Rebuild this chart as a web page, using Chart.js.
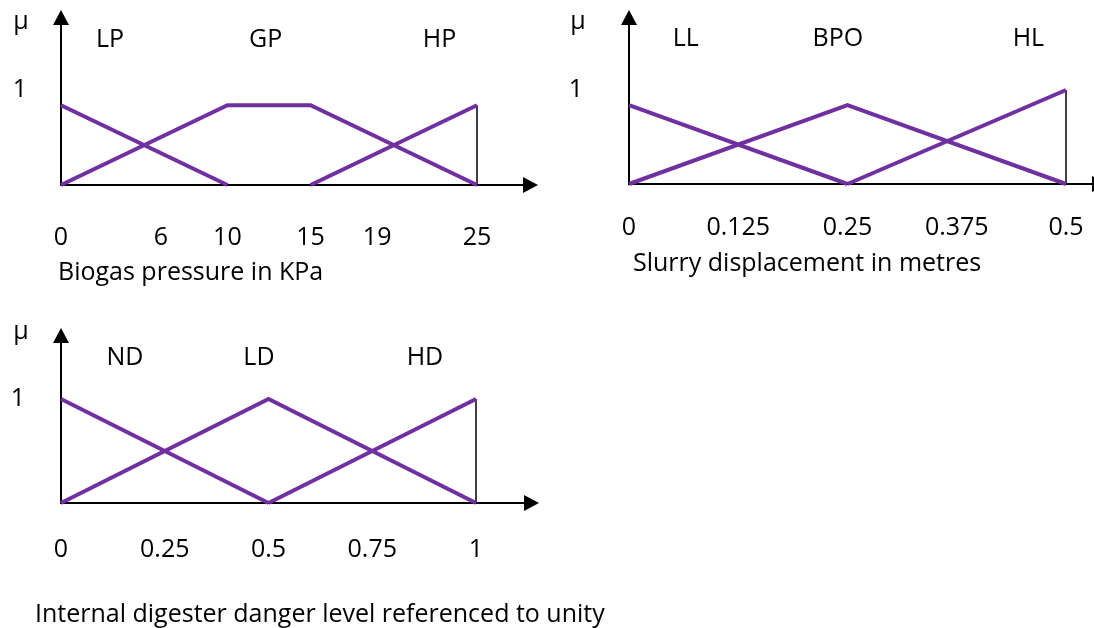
<!DOCTYPE html>
<html><head><meta charset="utf-8">
<script src="https://cdn.jsdelivr.net/npm/chart.js@4.4.1/dist/chart.umd.min.js"></script>
<style>
html,body{margin:0;padding:0;background:#fff;width:1094px;height:628px;overflow:hidden;position:relative;}
canvas{position:absolute;}
</style></head><body>
<canvas id="c1" width="547" height="290" style="left:0;top:0"></canvas>
<canvas id="c2" width="580" height="290" style="left:550px;top:0"></canvas>
<canvas id="c3" width="700" height="328" style="left:0;top:300px"></canvas>
<script>
// ---------- Data: biogas pressure (KPa) ----------
const pressureTicks = [0, 6, 10, 15, 19, 25];
const pressureTickLabels = ['0', '6', '10', '15', '19', '25'];
const pressureSets = ['LP', 'GP', 'HP'];
const lpX = [0, 10];          const lpY = [0.84, 0];
const gpX = [0, 10, 15, 25];  const gpY = [0, 0.84, 0.84, 0];
const hpX = [15, 25];         const hpY = [0, 0.84];

// ---------- Data: slurry displacement (m) ----------
const slurryTicks = [0, 0.125, 0.25, 0.375, 0.5];
const slurryTickLabels = ['0', '0.125', '0.25', '0.375', '0.5'];
const slurrySets = ['LL', 'BPO', 'HL'];
const llX = [0, 0.25];        const llY = [0.84, 0];
const bpoX = [0, 0.25, 0.5];  const bpoY = [0, 0.84, 0];
const hlX = [0.25, 0.5];      const hlY = [0, 1];

// ---------- Data: danger level ----------
const dangerTicks = [0, 0.25, 0.5, 0.75, 1];
const dangerTickLabels = ['0', '0.25', '0.5', '0.75', '1'];
const dangerSets = ['ND', 'LD', 'HD'];
const ndX = [0, 0.5];         const ndY = [1, 0];
const ldX = [0, 0.5, 1];      const ldY = [0, 1, 0];
const hdX = [0.5, 1];         const hdY = [0, 1];

const yTickValues = [1];
const yTickLabels = ['1'];
const MU = 'μ';

const PURPLE = '#7030A0';
const FONT = '"Open Sans", Lato, sans-serif';
const FSIZE = 25;

function decor(d) {
  return {
    id: 'decor',
    beforeDatasetsDraw(chart) {
      const {ctx, chartArea: a} = chart;
      ctx.save();
      ctx.strokeStyle = '#000'; ctx.fillStyle = '#000'; ctx.lineWidth = 2;
      const al = 15, aw = 8;
      // y axis with arrow
      const yTip = a.top + d.yTipDy;
      ctx.beginPath(); ctx.moveTo(a.left, a.bottom + 1); ctx.lineTo(a.left, yTip + al); ctx.stroke();
      ctx.beginPath(); ctx.moveTo(a.left, yTip); ctx.lineTo(a.left - aw, yTip + al); ctx.lineTo(a.left + aw, yTip + al); ctx.closePath(); ctx.fill();
      // x axis with arrow
      const xTip = a.right + d.xTipDx;
      ctx.beginPath(); ctx.moveTo(a.left - 1, a.bottom); ctx.lineTo(xTip - al, a.bottom); ctx.stroke();
      ctx.beginPath(); ctx.moveTo(xTip, a.bottom); ctx.lineTo(xTip - al, a.bottom - aw); ctx.lineTo(xTip - al, a.bottom + aw); ctx.closePath(); ctx.fill();
      ctx.restore();
    },
    afterDraw(chart) {
      const {ctx, chartArea: a, scales} = chart;
      ctx.save();
      ctx.fillStyle = '#000';
      ctx.font = FSIZE + 'px ' + FONT;
      ctx.textBaseline = 'alphabetic';
      ctx.textAlign = 'center';
      ctx.fillText(MU, a.left + d.muDx, a.top + d.muDy);
      d.names.forEach((n, i) => {
        ctx.fillText(n, scales.x.getPixelForValue(d.nameX[i]), a.top + d.nameDy);
      });
      ctx.textAlign = 'left';
      ctx.fillText(d.title, a.left + d.titleDx, a.bottom + d.titleDy);
      ctx.restore();
    }
  };
}

function buildChart(id, spec) {
  const datasets = spec.series.map(s => ({
    data: s.x.map((x, i) => ({x, y: s.y[i]})),
    borderColor: PURPLE, borderWidth: 4, pointRadius: 0, showLine: true,
    fill: false, tension: 0, clip: false
  }));
  const last = spec.series[spec.series.length - 1];
  const xe = last.x[last.x.length - 1], ye = last.y[last.y.length - 1];
  datasets.push({
    data: [{x: xe, y: 0}, {x: xe, y: ye}],
    borderColor: '#000', borderWidth: 1.5, pointRadius: 0, showLine: true, clip: false
  });
  return new Chart(document.getElementById(id), {
    type: 'scatter',
    data: {datasets},
    options: {
      responsive: false, animation: false, devicePixelRatio: 1,
      layout: {padding: {top: spec.padTop, right: spec.padRight, left: 0, bottom: 0}},
      plugins: {legend: {display: false}, tooltip: {enabled: false}, title: {display: false}},
      scales: {
        x: {
          type: 'linear', position: 'bottom', min: spec.xTicks[0], max: spec.xTicks[spec.xTicks.length - 1],
          grid: {display: false, drawTicks: false}, border: {display: false},
          afterBuildTicks: sc => { sc.ticks = spec.xTicks.map(v => ({value: v})); },
          afterFit: sc => { sc.height = spec.xHeight; },
          ticks: {padding: spec.xTickPad, maxRotation: 0, minRotation: 0, autoSkip: false, color: '#000',
                  font: {family: FONT, size: FSIZE},
                  callback: (v, i) => spec.xTickLabels[i]},
          title: {display: false}
        },
        y: {
          type: 'linear', position: 'left', min: 0, max: 1,
          grid: {display: false, drawTicks: false}, border: {display: false},
          afterBuildTicks: sc => { sc.ticks = yTickValues.map(v => ({value: v})); },
          afterFit: sc => { sc.width = spec.yWidth; },
          ticks: {padding: spec.yTickPad, color: '#000', font: {family: FONT, size: FSIZE},
                  callback: (v, i) => yTickLabels[i]}
        }
      }
    },
    plugins: [decor(spec.decor)]
  });
}

function draw() {
  buildChart('c1', {
    series: [{x: lpX, y: lpY}, {x: gpX, y: gpY}, {x: hpX, y: hpY}],
    xTicks: pressureTicks, xTickLabels: pressureTickLabels,
    padTop: 90, padRight: 70, yWidth: 61, xHeight: 105, xTickPad: 38, yTickPad: 34,
    decor: {title: 'Biogas pressure in KPa', titleDx: -3, titleDy: 95,
            names: pressureSets, nameX: [2.94, 12.3, 22.75], nameDy: -43, muDx: -40, muDy: -61, yTipDy: -80, xTipDx: 61}
  });
  buildChart('c2', {
    series: [{x: llX, y: llY}, {x: bpoX, y: bpoY}, {x: hlX, y: hlY}],
    xTicks: slurryTicks, xTickLabels: slurryTickLabels,
    padTop: 90, padRight: 64, yWidth: 79, xHeight: 106, xTickPad: 29, yTickPad: 46,
    decor: {title: 'Slurry displacement in metres', titleDx: 4, titleDy: 87,
            names: slurrySets, nameX: [0.065, 0.239, 0.457], nameDy: -44, muDx: -51, muDy: -61, yTipDy: -80, xTipDx: 41}
  });
  buildChart('c3', {
    series: [{x: ndX, y: ndY}, {x: ldX, y: ldY}, {x: hdX, y: hdY}],
    xTicks: dangerTicks, xTickLabels: dangerTickLabels,
    padTop: 99, padRight: 224, yWidth: 61, xHeight: 125, xTickPad: 32, yTickPad: 36,
    decor: {title: 'Internal digester danger level referenced to unity', titleDx: -26, titleDy: 119,
            names: dangerSets, nameX: [0.154, 0.477, 0.877], nameDy: -34, muDx: -40, muDy: -60, yTipDy: -71, xTipDx: 63}
  });
}
if (document.fonts && document.fonts.load) {
  document.fonts.load(FSIZE + 'px "Open Sans"').then(draw, draw);
} else { draw(); }
</script>
</body></html>
